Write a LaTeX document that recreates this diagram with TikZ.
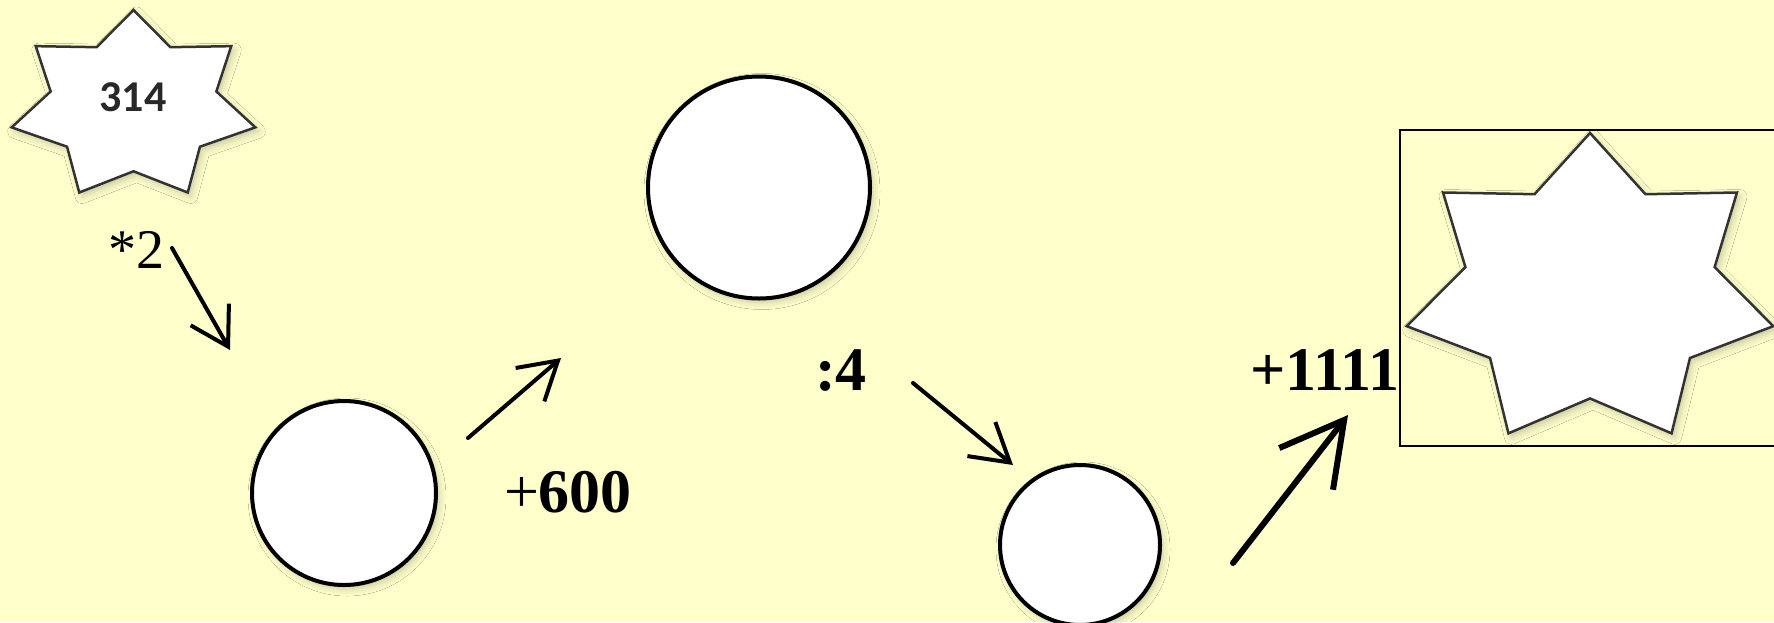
\documentclass[tikz,border=0pt]{standalone}
\usepackage{fontspec}
\setmainfont{Liberation Serif}
\newfontfamily\digitfont{Carlito}
\usetikzlibrary{arrows.meta,shadows.blur}
\definecolor{paperc}{RGB}{255,255,204}
\definecolor{inkc}{RGB}{40,40,40}
\tikzset{
  soft/.style={blur shadow={shadow xshift=3pt,shadow yshift=-4pt,shadow opacity=22,shadow blur radius=7pt}},
  disc/.style={circle,draw=black,line width=4pt,fill=white,inner sep=0pt,soft},
  hepta/.style={draw=black!80,line width=2.5pt,fill=white,line join=miter,soft},
  op/.style={font=\fontsize{62}{62}\selectfont,inner sep=0pt,anchor=base},
  jump/.style={line width=4pt,line cap=round,-{Straight Barb[length=37pt,width=44pt,line width=4pt]}},
  bigjump/.style={line width=6pt,line cap=round,-{Straight Barb[length=62pt,width=68pt,line width=6pt]}},
  frame/.style={draw=black,line width=1.5pt,fill=paperc},
  pics/hepta/.style args={#1/#2}{code={
    \draw[hepta] plot[samples at={0,...,13}]
      ({#1*(1-0.32*mod(\x,2))*cos(90+25.7143*\x)},{-#2*(1-0.32*mod(\x,2))*sin(90+25.7143*\x)}) -- cycle;}},
}
\begin{document}
\begin{tikzpicture}[x=1pt,y=-1pt]
  \fill[paperc] (0,0) rectangle (1774,622);
  \useasboundingbox (0,0) rectangle (1774,622);
  % start value
  \pic at (133.5,106) {hepta=125/96};
  \node[font=\digitfont\bfseries\fontsize{44}{44}\selectfont,text=inkc,inner sep=0pt] (seed) at (133,97) {314};
  % intermediate results
  \node[disc,minimum size=184pt] (r1) at (344,493) {};
  \node[disc,minimum size=222pt] (r2) at (759,187.5) {};
  \node[disc,minimum size=160pt] (r3) at (1080,545) {};
  % operations
  \node[op,font=\fontsize{56}{56}\selectfont] (mul) at (136,268) {*2};
  \node[op] (add1) at (568,512) {+\textbf{600}};
  \node[op,font=\fontsize{62}{62}\selectfont\bfseries] (div) at (841,390) {:4};
  \node[op,anchor=base west,font=\fontsize{62}{62}\selectfont\bfseries] (add2) at (1250,390) {+1111};
  \foreach \n/\x/\y in {a1s/172/248,a1e/230/350,a2s/468/438,a2e/561/358,
                        a3s/913/383,a3e/1013/465,a4s/1233/563,a4e/1348/415}
    \coordinate (\n) at (\x,\y);
  \draw[jump] (a1s) -- (a1e);
  \draw[jump] (a2s) -- (a2e);
  \draw[jump] (a3s) -- (a3e);
  \draw[bigjump] (a4s) -- (a4e);
  % result slot
  \draw[frame] (1400,130) rectangle (1790,446);
  \pic at (1590,291) {hepta=188/158};
\end{tikzpicture}
\end{document}
